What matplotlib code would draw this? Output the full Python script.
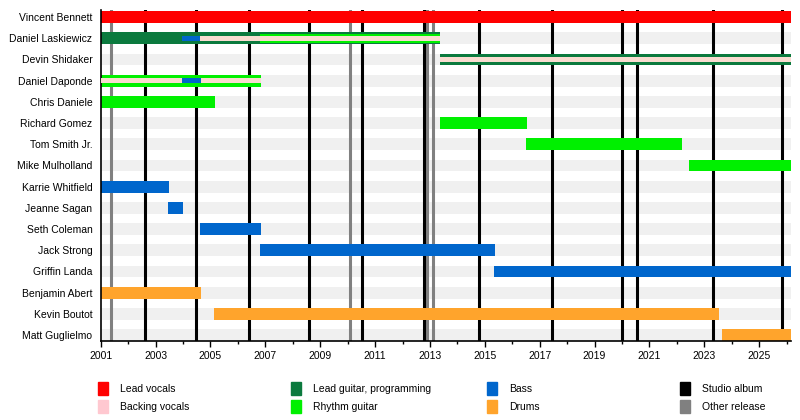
import matplotlib
matplotlib.use("Agg")
import matplotlib.pyplot as plt
from matplotlib.patches import Rectangle

plt.rcParams['font.family'] = ['Liberation Sans Narrow', 'Liberation Sans', 'DejaVu Sans']

END = 2026.15

names = ["Vincent Bennett", "Daniel Laskiewicz", "Devin Shidaker", "Daniel Daponde",
         "Chris Daniele", "Richard Gomez", "Tom Smith Jr.", "Mike Mulholland",
         "Karrie Whitfield", "Jeanne Sagan", "Seth Coleman", "Jack Strong",
         "Griffin Landa", "Benjamin Abert", "Kevin Boutot", "Matt Guglielmo"]

# main roles (full height bars)
lead_vocals = [("Vincent Bennett", 2001.0, END)]
lead_guitar = [("Daniel Laskiewicz", 2001.0, 2013.37),
               ("Devin Shidaker", 2013.36, END)]
rhythm_guitar = [("Daniel Daponde", 2001.0, 2006.83),
                 ("Chris Daniele", 2001.0, 2005.17),
                 ("Richard Gomez", 2013.35, 2016.53),
                 ("Tom Smith Jr.", 2016.50, 2022.18),
                 ("Mike Mulholland", 2022.46, END)]
bass = [("Karrie Whitfield", 2001.0, 2003.49),
        ("Jeanne Sagan", 2003.45, 2003.99),
        ("Seth Coleman", 2004.62, 2006.85),
        ("Jack Strong", 2006.81, 2015.37),
        ("Griffin Landa", 2015.34, END)]
drums = [("Benjamin Abert", 2001.0, 2004.66),
         ("Kevin Boutot", 2005.13, 2023.52),
         ("Matt Guglielmo", 2023.64, END)]

# secondary roles (narrower bars on top)
rhythm_guitar_2nd = [("Daniel Laskiewicz", 2006.81, 2013.37)]
backing_vocals_2nd = [("Daniel Laskiewicz", 2003.96, 2013.37),
                      ("Devin Shidaker", 2013.36, END),
                      ("Daniel Daponde", 2001.0, 2006.83)]
bass_2nd = [("Daniel Laskiewicz", 2003.96, 2004.62),
            ("Daniel Daponde", 2003.96, 2004.65)]

studio_albums = [2002.62, 2004.47, 2006.42, 2008.60, 2010.54, 2012.80,
                 2014.77, 2017.46, 2019.99, 2020.56, 2023.33, 2025.83]
other_releases = [2001.38, 2010.10, 2012.88, 2013.12]

colors = {
    "Lead vocals": "#ff0000",
    "Backing vocals": "#ffc8d0",
    "Lead guitar, programming": "#0b7a3e",
    "Rhythm guitar": "#00f000",
    "Bass": "#0066cc",
    "Drums": "#ffa42c",
    "Studio album": "#000000",
    "Other release": "#808080",
}
stripe_pink = "#f9dcd0"

fig = plt.figure(figsize=(8, 4.2), dpi=100)
ax = fig.add_axes([0.1259, 0.188, 0.8625, 0.788])

row = {n: i for i, n in enumerate(names)}
H = 0.56

# background bands
for i in range(len(names)):
    ax.barh(i, END - 2001.0, left=2001.0, height=H, color="#f0f0f0", zorder=0)

for x in other_releases:
    ax.axvline(x, color=colors["Other release"], lw=2.2, zorder=1)
for x in studio_albums:
    ax.axvline(x, color=colors["Studio album"], lw=2.2, zorder=1)


def draw(items, color, h, z):
    for n, s, e in items:
        ax.barh(row[n], e - s, left=s, height=h, color=color, lw=0, zorder=z)


draw(lead_vocals, colors["Lead vocals"], H, 2)
draw(lead_guitar, colors["Lead guitar, programming"], H, 2)
draw(rhythm_guitar, colors["Rhythm guitar"], H, 2)
draw(bass, colors["Bass"], H, 2)
draw(drums, colors["Drums"], H, 2)
draw(rhythm_guitar_2nd, colors["Rhythm guitar"], 0.40, 3)
draw(backing_vocals_2nd, stripe_pink, 0.21, 4)
draw(bass_2nd, colors["Bass"], 0.21, 5)

ax.set_xlim(2001.0, END)
ax.set_ylim(15.28, -0.33)
ax.set_yticks(range(len(names)))
ax.set_yticklabels(names, fontsize=7.5)
ax.tick_params(axis="y", length=0, pad=6)
ax.set_xticks(range(2001, 2027, 2))
ax.set_xticks(range(2001, 2027), minor=True)
ax.tick_params(axis="x", which="major", length=4, width=1, labelsize=7.5, pad=3)
ax.tick_params(axis="x", which="minor", length=2.5, width=1)
for side in ["top", "right"]:
    ax.spines[side].set_visible(False)
for side in ["left", "bottom"]:
    ax.spines[side].set_linewidth(1.2)

# legend
legend_cols = [
    ["Lead vocals", "Backing vocals"],
    ["Lead guitar, programming", "Rhythm guitar"],
    ["Bass", "Drums"],
    ["Studio album", "Other release"],
]
col_x = [98, 291, 487, 680]
row_y = [389, 407]
for cx, labels in zip(col_x, legend_cols):
    for ry, lab in zip(row_y, labels):
        fig.patches.append(Rectangle((cx / 800, 1 - (ry + 6) / 420), 10 / 800, 13 / 420,
                                     transform=fig.transFigure, color=colors[lab]))
        fig.text((cx + 22) / 800, 1 - ry / 420, lab, fontsize=7.5, va="center", ha="left")

fig.savefig("out.png", dpi=100)
